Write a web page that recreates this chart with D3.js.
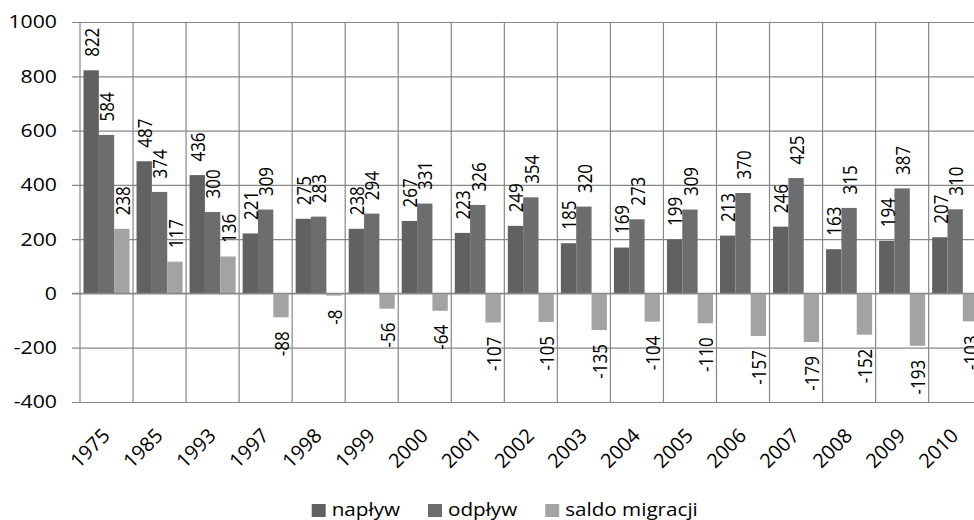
<!DOCTYPE html>
<html>
<head>
<meta charset="utf-8">
<script src="https://cdn.jsdelivr.net/npm/d3@7"></script>
<style>
  html, body { margin: 0; padding: 0; background: #fff; }
  svg { display: block; }
  text { font-family: "Open Sans", sans-serif; fill: #000; }
</style>
</head>
<body>
<svg id="chart" width="974" height="520"></svg>
<script>
const years = ["1975","1985","1993","1997","1998","1999","2000","2001","2002","2003","2004","2005","2006","2007","2008","2009","2010"];
const seriesNames = ["napływ","odpływ","saldo migracji"];
const naplyw = [822,487,436,221,275,238,267,223,249,185,169,199,213,246,163,194,207];
const odplyw = [584,374,300,309,283,294,331,326,354,320,273,309,370,425,315,387,310];
const saldo  = [238,117,136,-88,-8,-56,-64,-107,-105,-135,-104,-110,-157,-179,-152,-193,-103];
const yTicks = [-400,-200,0,200,400,600,800,1000];

(function () {
const seriesValues = [naplyw, odplyw, saldo];
const colors = ["#616161", "#6d6d6d", "#a3a3a3"];
const SX = 1.18; // horizontal text stretch

const svg = d3.select("#chart");
const pLeft = 80, pTop = 22, pBottom = 402, catW = 53.04;
const pRight = pLeft + catW * years.length;

const x0 = d3.scaleBand().domain(years).range([pLeft, pRight]).padding(0);
const x1 = d3.scaleBand().domain(d3.range(3)).range([3.5, catW - 3.5]).padding(0);
const y = d3.scaleLinear().domain([-400, 1000]).range([pBottom, pTop]);

const gridColor = "#878787";

// horizontal gridlines + ticks
const yAxis = d3.axisLeft(y).tickValues(yTicks).tickSize(-(pRight - pLeft)).tickFormat("");
const gy = svg.append("g").attr("transform", `translate(${pLeft},0)`).call(yAxis);
gy.select(".domain").remove();
gy.selectAll(".tick line").attr("stroke", gridColor).attr("stroke-width", 1.2).attr("x1", -8);

// vertical gridlines at category boundaries
const bounds = years.map(d => x0(d)).concat([pRight]);
svg.append("g").selectAll("line").data(bounds).join("line")
  .attr("x1", d => d).attr("x2", d => d)
  .attr("y1", pTop).attr("y2", pBottom)
  .attr("stroke", gridColor).attr("stroke-width", 1.2);

// y tick labels
svg.append("g").selectAll("text").data(yTicks).join("text")
  .attr("transform", d => `translate(57,${y(d)}) scale(${SX},1)`)
  .attr("text-anchor", "end").attr("dy", "0.36em")
  .style("font-size", "18px")
  .text(d => d);

// data rows
const rows = [];
years.forEach((yr, i) => {
  seriesValues.forEach((arr, s) => rows.push({ yr, s, v: arr[i] }));
});

svg.append("g").selectAll("rect").data(rows).join("rect")
  .attr("x", d => x0(d.yr) + x1(d.s))
  .attr("width", x1.bandwidth())
  .attr("y", d => y(Math.max(0, d.v)))
  .attr("height", d => Math.abs(y(d.v) - y(0)))
  .attr("fill", d => colors[d.s]);

// zero line on top
svg.append("line").attr("x1", pLeft - 8).attr("x2", pRight)
  .attr("y1", y(0)).attr("y2", y(0))
  .attr("stroke", gridColor).attr("stroke-width", 1.2);

// value labels
svg.append("g").selectAll("text").data(rows).join("text")
  .attr("transform", d => {
    const cx = x0(d.yr) + x1(d.s) + x1.bandwidth() / 2 + 0.5;
    const yy = d.v >= 0 ? y(d.v) - 13.5 : y(d.v) + 14;
    return `translate(${cx},${yy}) scale(${SX},1) rotate(-90)`;
  })
  .attr("text-anchor", d => d.v >= 0 ? "start" : "end")
  .attr("dy", "0.36em")
  .style("font-size", "17px")
  .text(d => d.v);

// x labels
svg.append("g").selectAll("text").data(years).join("text")
  .attr("transform", d => `translate(${x0(d) + catW / 2 + 4.5},437) rotate(-45)`)
  .attr("text-anchor", "end")
  .style("font-size", "20px")
  .text(d => d);

// legend
const lg = svg.append("g");
let lx = 311.7;
seriesNames.forEach((name, s) => {
  lg.append("rect").attr("x", lx).attr("y", 504).attr("width", 14).attr("height", 13).attr("fill", colors[s]);
  const t = lg.append("text")
    .attr("transform", `translate(${lx + 20},516) scale(${SX},1)`)
    .style("font-size", "17.5px")
    .text(name);
  const w = t.node().getComputedTextLength() * SX;
  lx = lx + 20 + w + 28;
});
})();
</script>
</body>
</html>
